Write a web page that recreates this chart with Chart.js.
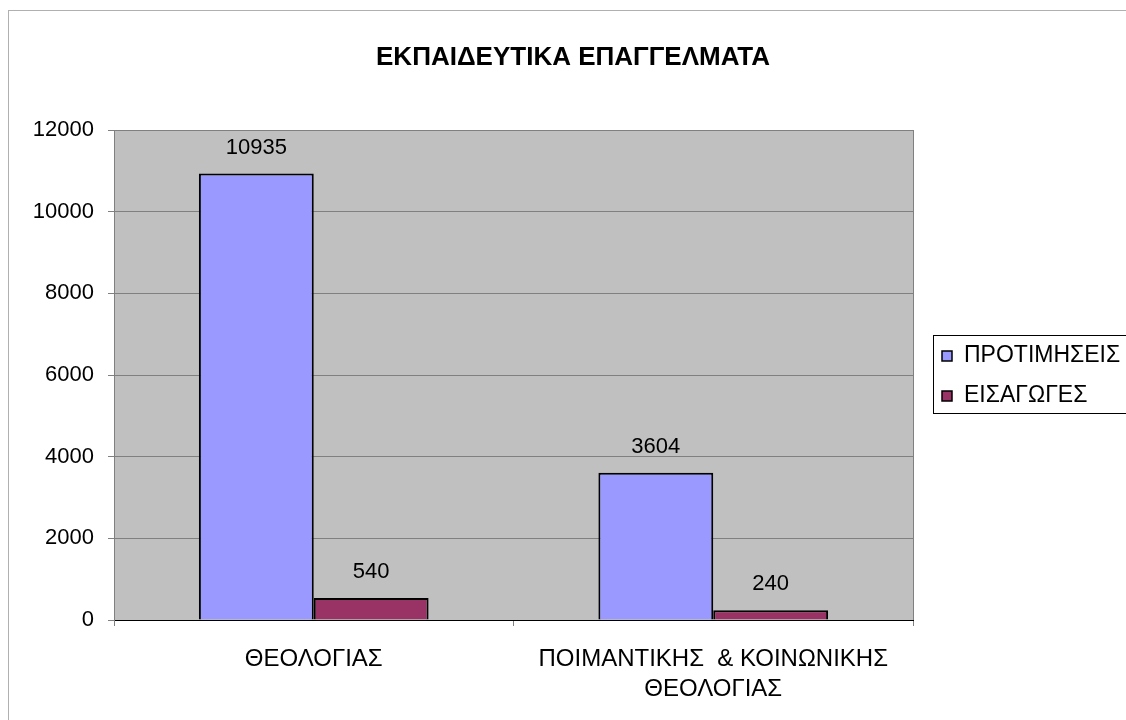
<!DOCTYPE html>
<html>
<head>
<meta charset="utf-8">
<script src="https://cdn.jsdelivr.net/npm/chart.js@4"></script>
<style>
  html, body { margin: 0; padding: 0; background: #fff; }
  #wrap { width: 1126px; height: 720px; }
</style>
</head>
<body>
<div id="wrap"><canvas id="chart" width="1126" height="720"></canvas></div>
<script>
  const chartTitle = "ΕΚΠΑΙΔΕΥΤΙΚΑ ΕΠΑΓΓΕΛΜΑΤΑ";
  const categories = ["ΘΕΟΛΟΓΙΑΣ", ["ΠΟΙΜΑΝΤΙΚΗΣ  & ΚΟΙΝΩΝΙΚΗΣ", "ΘΕΟΛΟΓΙΑΣ"]];
  const seriesNames = ["ΠΡΟΤΙΜΗΣΕΙΣ", "ΕΙΣΑΓΩΓΕΣ"];
  const preferences = [10935, 3604];
  const admissions = [540, 240];
  const yTicks = [0, 2000, 4000, 6000, 8000, 10000, 12000];

  const font = "'Liberation Sans', Arial, sans-serif";

  // Frame, title, gray plot background
  const backdrop = {
    id: "backdrop",
    beforeDraw(chart) {
      const { ctx, chartArea: a } = chart;
      ctx.save();
      ctx.strokeStyle = "#b0b0b0";
      ctx.lineWidth = 1;
      ctx.strokeRect(8.5, 10.5, 1140, 740);
      ctx.fillStyle = "#000";
      ctx.font = "bold 26px " + font;
      ctx.textAlign = "center";
      ctx.textBaseline = "middle";
      ctx.fillText(chartTitle, 573, 58);
      ctx.fillStyle = "#c0c0c0";
      ctx.fillRect(a.left, a.top, a.right - a.left, a.bottom - a.top);
      ctx.strokeStyle = "#808080";
      ctx.strokeRect(a.left + 0.5, a.top + 0.5, a.right - a.left, a.bottom - a.top);
      ctx.restore();
    }
  };

  // Values above bars
  const valueLabels = {
    id: "valueLabels",
    afterDatasetsDraw(chart) {
      const { ctx } = chart;
      ctx.save();
      ctx.fillStyle = "#000";
      ctx.font = "22px " + font;
      ctx.textAlign = "center";
      ctx.textBaseline = "middle";
      chart.data.datasets.forEach((ds, i) => {
        chart.getDatasetMeta(i).data.forEach((bar, j) => {
          ctx.fillText(String(ds.data[j]), bar.x, bar.y - 26);
        });
      });
      ctx.restore();
    }
  };

  // Excel-style legend box on the right
  const sideLegend = {
    id: "sideLegend",
    afterDraw(chart) {
      const { ctx } = chart;
      const x = 933, y = 335;
      ctx.save();
      ctx.fillStyle = "#fff";
      ctx.fillRect(x, y, 200, 78);
      ctx.strokeStyle = "#000";
      ctx.lineWidth = 1;
      ctx.strokeRect(x + 0.5, y + 0.5, 200, 78);
      ctx.font = "23px " + font;
      ctx.textBaseline = "middle";
      chart.data.datasets.forEach((ds, i) => {
        const cy = y + 20 + i * 40;
        ctx.fillStyle = ds.backgroundColor;
        ctx.fillRect(x + 9, cy - 4, 10, 10);
        ctx.strokeStyle = "#000";
        ctx.lineWidth = 1.5;
        ctx.strokeRect(x + 9, cy - 4, 10, 10);
        ctx.fillStyle = "#000";
        ctx.fillText(ds.label, x + 31, cy + 1);
      });
      ctx.restore();
    }
  };

  new Chart(document.getElementById("chart"), {
    type: "bar",
    data: {
      labels: categories,
      datasets: [
        { label: seriesNames[0], data: preferences, backgroundColor: "#9999ff", borderColor: "#000", borderWidth: 2, borderSkipped: "bottom" },
        { label: seriesNames[1], data: admissions, backgroundColor: "#993366", borderColor: "#000", borderWidth: 2, borderSkipped: "bottom" }
      ]
    },
    options: {
      responsive: false,
      animation: false,
      layout: { padding: { left: 0, right: 213, top: 130, bottom: 0 } },
      datasets: { bar: { categoryPercentage: 0.575, barPercentage: 1 } },
      scales: {
        x: {
          grid: { drawOnChartArea: false, tickLength: 6, color: "#808080" },
          border: { color: "#000" },
          ticks: { color: "#000", font: { family: font, size: 24, lineHeight: 1.25 }, padding: 18, maxRotation: 0 },
          afterFit(scale) { scale.height = 100; }
        },
        y: {
          min: 0,
          max: 12000,
          afterBuildTicks(scale) { scale.ticks = yTicks.map(v => ({ value: v })); },
          grid: { color: "#808080", tickLength: 6 },
          border: { color: "#808080" },
          ticks: { color: "#000", font: { family: font, size: 22 }, padding: 14, callback: v => String(v) },
          afterFit(scale) { scale.width = 114; }
        }
      },
      plugins: {
        legend: { display: false },
        tooltip: { enabled: false },
        title: { display: false }
      }
    },
    plugins: [backdrop, valueLabels, sideLegend]
  });
</script>
</body>
</html>
